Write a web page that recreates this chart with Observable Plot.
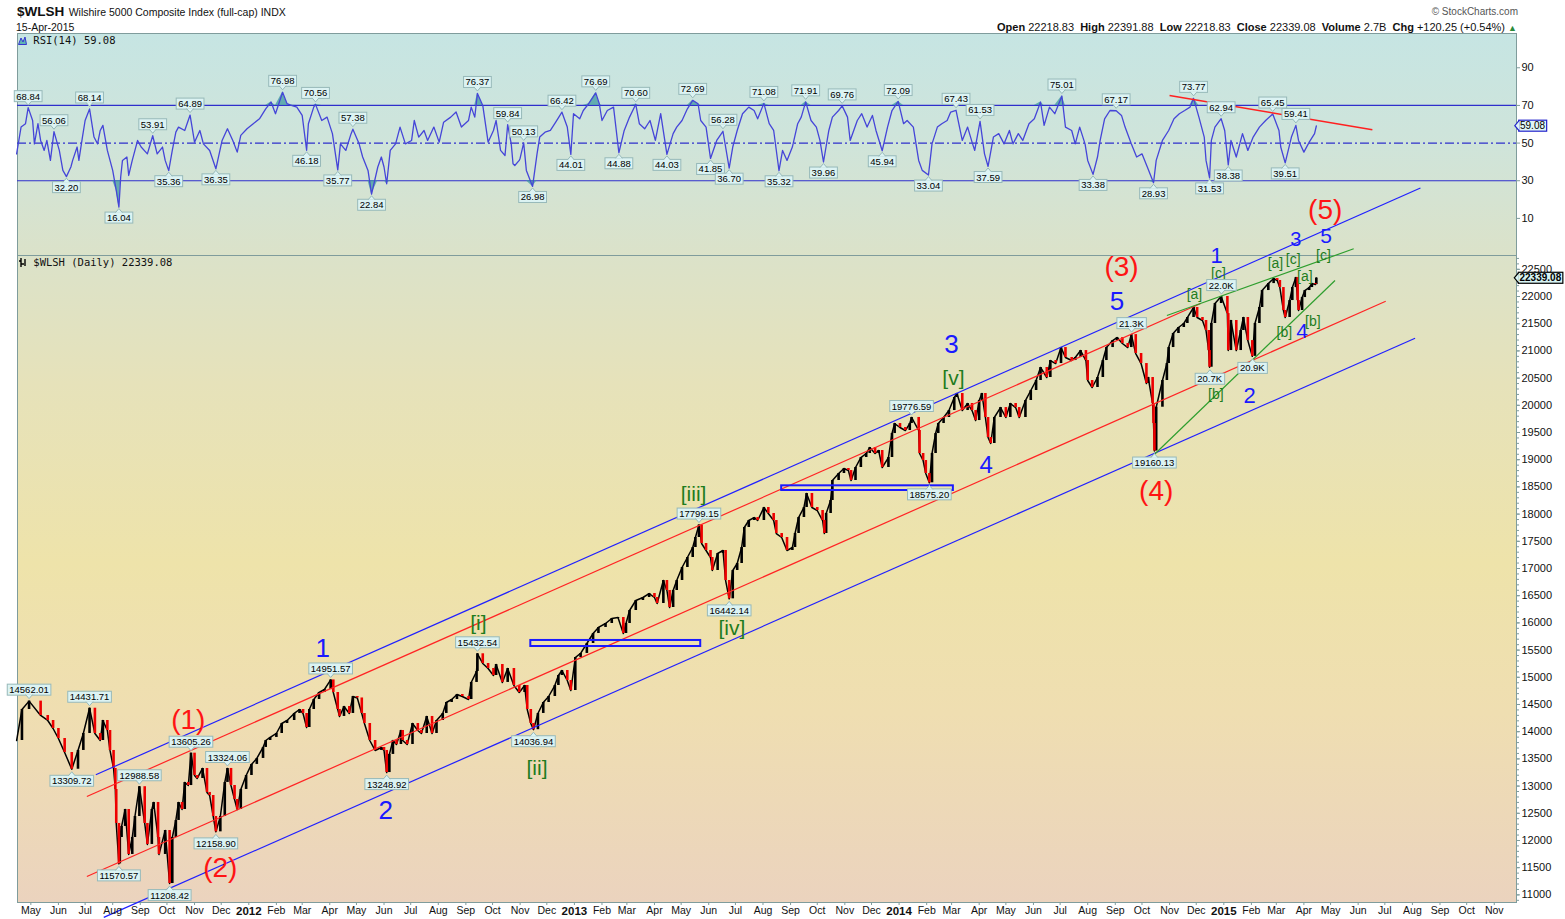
<!DOCTYPE html>
<html><head><meta charset="utf-8">
<script src="https://cdn.jsdelivr.net/npm/d3@7"></script>
<script src="https://cdn.jsdelivr.net/npm/@observablehq/plot@0.6"></script>
<style>
body{margin:0;background:#fff;}
#wrap{position:relative;width:1565px;height:919px;overflow:hidden;font-family:"Liberation Sans",Arial,sans-serif;color:#111;}
.abs{position:absolute;white-space:nowrap;}
#bg{position:absolute;left:17px;top:33px;width:1499px;height:869px;
background:linear-gradient(to bottom,#c6e5e3 0px,#cfe4da 110px,#dbe2c9 222px,#e6e2ba 350px,#eee3aa 530px,#efdeb1 680px,#ebd3be 869px);}
.mono{font-family:"DejaVu Sans Mono",monospace;font-size:10.5px;line-height:12px;}
</style></head><body>
<div id="wrap">
  <div id="bg"></div>
  <div id="rsi" class="abs" style="left:0;top:33px"></div>
  <div id="price" class="abs" style="left:0;top:255px"></div>
  <div class="abs" style="left:17px;top:4px;line-height:14px"><span style="font-weight:bold;font-size:13.5px">$WLSH</span> <span style="font-size:10.5px">Wilshire 5000 Composite Index (full-cap) INDX</span></div>
  <div class="abs" style="left:16px;top:21px;font-size:10.5px;line-height:12px">15-Apr-2015</div>
  <div class="abs" style="right:47px;top:6px;font-size:10px;color:#555;line-height:12px">© StockCharts.com</div>
  <div class="abs" style="right:48px;top:21px;font-size:11px;line-height:12px"><b>Open</b> 22218.83&nbsp; <b>High</b> 22391.88&nbsp; <b>Low</b> 22218.83&nbsp; <b>Close</b> 22339.08&nbsp; <b>Volume</b> 2.7B&nbsp; <b>Chg</b> +120.25 (+0.54%) <span style="color:#2a8a3a;font-size:9px">▲</span></div>
  <div class="abs mono" style="left:18px;top:34px"><svg width="9" height="9" style="vertical-align:-1px"><path d="M0.5,8.5 L3,2 L5,6 L7,1 L8.5,8.5 Z" fill="#5fb4b4" stroke="#3535d0" stroke-width="1"/></svg> RSI(14) 59.08</div>
  <div class="abs mono" style="left:19px;top:256px"><svg width="8" height="9" style="vertical-align:-1px"><path d="M2,0 V9 M2,3 H0 M2,6 H5 M6,1 V8" stroke="#000" stroke-width="1.4" fill="none"/></svg> $WLSH (Daily) 22339.08</div>
</div>
<script>
// ---------------- DATA ----------------
const priceDates = [
"2011-04-15","2011-04-21","2011-04-29","2011-05-12","2011-05-20","2011-05-26","2011-06-01","2011-06-08","2011-06-16","2011-06-23",
"2011-06-29","2011-07-06","2011-07-12","2011-07-18","2011-07-21","2011-07-26","2011-07-29","2011-08-02","2011-08-04","2011-08-05",
"2011-08-08","2011-08-09","2011-08-11","2011-08-15","2011-08-19","2011-08-23","2011-08-26","2011-08-31","2011-09-06","2011-09-09",
"2011-09-14","2011-09-16","2011-09-21","2011-09-22","2011-09-29","2011-10-04","2011-10-07","2011-10-11","2011-10-14","2011-10-18",
"2011-10-21","2011-10-25","2011-10-28","2011-11-01","2011-11-04","2011-11-10","2011-11-15","2011-11-18","2011-11-22","2011-11-25",
"2011-11-30","2011-12-05","2011-12-08","2011-12-12","2011-12-16","2011-12-19","2011-12-23","2011-12-29","2012-01-04","2012-01-10",
"2012-01-17","2012-01-20","2012-01-25","2012-02-01","2012-02-07","2012-02-13","2012-02-21","2012-02-27","2012-03-02","2012-03-06",
"2012-03-09","2012-03-14","2012-03-20","2012-03-26","2012-04-02","2012-04-05","2012-04-10","2012-04-12","2012-04-17","2012-04-23",
"2012-04-27","2012-05-02","2012-05-07","2012-05-10","2012-05-16","2012-05-22","2012-05-29","2012-06-01","2012-06-04","2012-06-07",
"2012-06-11","2012-06-15","2012-06-20","2012-06-22","2012-06-27","2012-07-03","2012-07-09","2012-07-13","2012-07-19","2012-07-25",
"2012-07-30","2012-08-06","2012-08-10","2012-08-16","2012-08-22","2012-08-28","2012-09-04","2012-09-07","2012-09-13","2012-09-14",
"2012-09-20","2012-09-26","2012-10-02","2012-10-05","2012-10-12","2012-10-18","2012-10-25","2012-10-31","2012-11-06","2012-11-09",
"2012-11-13","2012-11-16","2012-11-21","2012-11-27","2012-12-03","2012-12-10","2012-12-14","2012-12-18","2012-12-24","2012-12-28",
"2013-01-02","2013-01-08","2013-01-15","2013-01-22","2013-01-28","2013-02-05","2013-02-12","2013-02-19","2013-02-25","2013-02-28",
"2013-03-04","2013-03-11","2013-03-19","2013-03-26","2013-04-01","2013-04-04","2013-04-11","2013-04-15","2013-04-18","2013-04-22",
"2013-04-26","2013-05-02","2013-05-08","2013-05-14","2013-05-17","2013-05-21","2013-05-24","2013-05-29","2013-06-03","2013-06-05",
"2013-06-11","2013-06-17","2013-06-20","2013-06-24","2013-06-28","2013-07-03","2013-07-08","2013-07-11","2013-07-16","2013-07-22",
"2013-07-26","2013-08-02","2013-08-07","2013-08-13","2013-08-16","2013-08-22","2013-08-28","2013-09-03","2013-09-06","2013-09-10",
"2013-09-16","2013-09-19","2013-09-25","2013-10-01","2013-10-07","2013-10-09","2013-10-11","2013-10-16","2013-10-18","2013-10-25",
"2013-10-31","2013-11-05","2013-11-08","2013-11-13","2013-11-19","2013-11-25","2013-11-29","2013-12-05","2013-12-09","2013-12-13",
"2013-12-20","2013-12-24","2013-12-27","2014-01-02","2014-01-08","2014-01-13","2014-01-15","2014-01-23","2014-01-24","2014-01-28",
"2014-01-31","2014-02-04","2014-02-07","2014-02-11","2014-02-14","2014-02-20","2014-02-26","2014-03-04","2014-03-07","2014-03-13",
"2014-03-19","2014-03-24","2014-03-28","2014-04-01","2014-04-04","2014-04-08","2014-04-11","2014-04-14","2014-04-18","2014-04-25",
"2014-05-01","2014-05-06","2014-05-12","2014-05-16","2014-05-23","2014-05-29","2014-06-04","2014-06-09","2014-06-16","2014-06-20",
"2014-06-26","2014-07-02","2014-07-07","2014-07-14","2014-07-18","2014-07-24","2014-07-30","2014-08-01","2014-08-06","2014-08-12",
"2014-08-18","2014-08-22","2014-08-29","2014-09-03","2014-09-09","2014-09-15","2014-09-19","2014-09-24","2014-09-30","2014-10-06",
"2014-10-08","2014-10-13","2014-10-14","2014-10-15","2014-10-17","2014-10-24","2014-10-29","2014-10-31","2014-11-05","2014-11-11",
"2014-11-17","2014-11-21","2014-11-28","2014-12-02","2014-12-08","2014-12-12","2014-12-15","2014-12-16","2014-12-18","2014-12-22",
"2014-12-29","2015-01-05","2015-01-06","2015-01-09","2015-01-15","2015-01-20","2015-01-23","2015-01-28","2015-02-02","2015-02-05",
"2015-02-10","2015-02-13","2015-02-20","2015-02-26","2015-03-02","2015-03-05","2015-03-09","2015-03-11","2015-03-16","2015-03-19",
"2015-03-23","2015-03-25","2015-03-26","2015-03-30","2015-04-02","2015-04-07","2015-04-10","2015-04-14","2015-04-15"];
const priceCloses = [
13838,14408,14562.01,14298,14206,14059,13875,13618,13309.72,13655,
13967,14431.71,13967,13838,14206,14022,13655,13324,12938,12313,
11570.57,12055,12258,12570,11743,12055,12441,12988.58,12313,11927,
12570,12699,12055,11743,12184,11208.42,12055,12368,12699,12570,
13067,13010,13605.26,13195,13140,13324,12883,12827,12441,12158.90,
12441,13067,13324.06,13011,12754,12570,12938,13195,13398,13508,
13710,13838,13894,13967,14151,14206,14335,14408,14335,14077,
14408,14592,14721,14776,14951.57,14721,14408,14280,14463,14335,
14647,14620,14335,14151,13838,13655,13710,13655,13248.92,13582,
13838,13765,14022,13838,13765,14151,14022,13967,14280,13967,
14206,14335,14537,14592,14684,14647,14592,14905,15107,15432.54,
15254,15162,15033,15235,14905,15162,14849,14721,14849,14408,
14151,14036.94,14335,14537,14647,14849,15033,15125,14941,14757,
15364,15438,15621,15805,15916,15989,16081,16099,15805,15989,
16228,16412,16467,16540,16467,16357,16779,16596,16283,16596,
16779,17018,17202,17386,17570,17799.15,17460,17331,17202,16963,
17276,17331,16779,16442.14,16963,17092,17386,17754,17882,17937,
17882,18121,18011,17882,17643,17570,17331,17386,17643,17937,
18121,18379,18121,18066,17882,17643,18011,18250,18618,18746,
18838,18801,18618,18857,19040,19114,19224,19114,19169,18857,
19040,19481,19665,19592,19537,19665,19776.59,19537,19114,18985,
18746,18575.20,19114,19481,19665,19776,19904,20143,20217,19904,
20033,19904,19720,20088,20217,19776,19408,19298,19776,19959,
19776,20033,19959,19776,20088,20272,20456,20695,20511,20823,
20768,21062,20879,20823,20879,21007,20823,20456,20327,20511,
20823,21062,21190,21245,21136,21062,21300,20952,20768,20401,
20511,20033,19665,19160.13,19965,20456,20768,21062,21320,21430,
21504,21614,21798,21614,21559,21375,21007,20700,21504,21872,
22000,21687,21007,21559,21007,21375,21614,21190,20900,21504,
21798,22110,22238,22330,22294,22165,21743,21614,21926,22165,
22349,21926,21743,21981,22110,22165,22238,22219,22339.08];

const rsiDates = [
"2011-04-15","2011-04-20","2011-04-25","2011-04-28","2011-05-03","2011-05-05","2011-05-09","2011-05-12","2011-05-16","2011-05-19",
"2011-05-23","2011-05-27","2011-06-02","2011-06-06","2011-06-10","2011-06-15","2011-06-17","2011-06-22","2011-06-24","2011-06-28",
"2011-07-01","2011-07-06","2011-07-11","2011-07-15","2011-07-18","2011-07-21","2011-07-26","2011-08-01","2011-08-05","2011-08-08",
"2011-08-10","2011-08-12","2011-08-17","2011-08-19","2011-08-23","2011-08-29","2011-09-02","2011-09-09","2011-09-15","2011-09-20",
"2011-09-26","2011-09-29","2011-10-03","2011-10-07","2011-10-11","2011-10-14","2011-10-21","2011-10-27","2011-11-01","2011-11-07",
"2011-11-11","2011-11-18","2011-11-25","2011-12-02","2011-12-08","2011-12-14","2011-12-19","2011-12-23","2011-12-30","2012-01-06",
"2012-01-13","2012-01-20","2012-01-26","2012-01-31","2012-02-08","2012-02-13","2012-02-17","2012-02-24","2012-03-01","2012-03-06",
"2012-03-08","2012-03-14","2012-03-16","2012-03-23","2012-03-29","2012-04-04","2012-04-10","2012-04-13","2012-04-19","2012-04-25",
"2012-04-27","2012-05-04","2012-05-08","2012-05-14","2012-05-18","2012-05-25","2012-05-29","2012-06-01","2012-06-04","2012-06-08",
"2012-06-14","2012-06-19","2012-06-25","2012-07-02","2012-07-05","2012-07-10","2012-07-16","2012-07-20","2012-07-27","2012-08-02",
"2012-08-07","2012-08-15","2012-08-21","2012-08-27","2012-09-04","2012-09-07","2012-09-11","2012-09-14","2012-09-20","2012-09-26",
"2012-10-02","2012-10-05","2012-10-10","2012-10-15","2012-10-18","2012-10-22","2012-10-24","2012-10-26","2012-10-31","2012-11-01",
"2012-11-05","2012-11-08","2012-11-15","2012-11-20","2012-11-23","2012-11-29","2012-12-05","2012-12-11","2012-12-18","2012-12-24",
"2012-12-28","2012-12-31","2013-01-07","2013-01-11","2013-01-17","2013-01-25","2013-01-29","2013-02-01","2013-02-07","2013-02-14",
"2013-02-20","2013-02-26","2013-03-04","2013-03-11","2013-03-15","2013-03-21","2013-03-27","2013-04-02","2013-04-08","2013-04-15",
"2013-04-22","2013-04-26","2013-05-02","2013-05-08","2013-05-14","2013-05-20","2013-05-23","2013-05-29","2013-06-03","2013-06-10",
"2013-06-17","2013-06-24","2013-06-28","2013-07-03","2013-07-09","2013-07-16","2013-07-22","2013-07-26","2013-08-02","2013-08-08",
"2013-08-13","2013-08-19","2013-08-23","2013-08-28","2013-09-03","2013-09-09","2013-09-13","2013-09-18","2013-09-24","2013-09-30",
"2013-10-04","2013-10-08","2013-10-14","2013-10-18","2013-10-25","2013-10-29","2013-11-04","2013-11-07","2013-11-15","2013-11-20",
"2013-11-26","2013-12-02","2013-12-06","2013-12-13","2013-12-19","2013-12-24","2013-12-31","2014-01-06","2014-01-10","2014-01-17",
"2014-01-23","2014-01-27","2014-02-03","2014-02-07","2014-02-13","2014-02-18","2014-02-24","2014-02-28","2014-03-06","2014-03-13",
"2014-03-19","2014-03-24","2014-03-27","2014-04-02","2014-04-07","2014-04-11","2014-04-17","2014-04-23","2014-04-29","2014-05-05",
"2014-05-09","2014-05-15","2014-05-20","2014-05-27","2014-06-02","2014-06-09","2014-06-13","2014-06-19","2014-06-25","2014-07-03",
"2014-07-07","2014-07-14","2014-07-18","2014-07-23","2014-07-29","2014-08-01","2014-08-07","2014-08-12","2014-08-15","2014-08-20",
"2014-08-26","2014-09-02","2014-09-08","2014-09-12","2014-09-19","2014-09-25","2014-10-01","2014-10-07","2014-10-14","2014-10-17",
"2014-10-24","2014-10-31","2014-11-06","2014-11-12","2014-11-18","2014-11-24","2014-11-28","2014-12-04","2014-12-10","2014-12-12",
"2014-12-16","2014-12-18","2014-12-22","2014-12-29","2015-01-02","2015-01-06","2015-01-09","2015-01-15","2015-01-22","2015-01-28",
"2015-02-03","2015-02-10","2015-02-17","2015-02-25","2015-03-04","2015-03-06","2015-03-11","2015-03-18","2015-03-23","2015-03-26",
"2015-04-01","2015-04-07","2015-04-13","2015-04-15"];
const rsiValues = [
44.3,58.5,60.3,68.84,62,49.6,60.3,51.4,46.1,51.4,
40.8,56.06,46.1,35.5,32.20,37.3,40.8,47.9,40.8,53.2,
62,68.14,53.2,49.6,56.7,59.4,46.1,35.5,24.9,16.04,
32,40.8,42.6,32.8,40.8,51.4,47.9,44.3,53.91,44.3,
47.9,40.8,35.36,46.1,55.8,58.5,56.7,64.89,50.5,56.7,
49.6,46.1,36.35,51.4,57.6,51.4,45.2,54.1,57.6,60.3,
62.9,68.2,71.8,65.6,76.98,70.9,70.2,69.1,64.7,46.18,
60.3,69.1,70.56,62,63.8,55,35.77,49.6,46.1,55,
57.38,49.6,42.6,35.5,22.84,37.3,42.6,37.3,28.4,46.1,
49.6,58.5,49.6,51.4,62,53.2,56.7,51.4,58.5,50.5,
61.1,63.8,66.5,58.5,62,69.1,63.8,76.37,70,50.5,
56.7,62,46.1,43.4,59.84,49.6,39,38.1,40.8,42,
50.13,35.5,26.98,44.3,53.2,55.8,56.7,61.1,66.42,58.5,
44.01,65.6,62.9,67.3,70.9,76.69,70.9,62,67.3,69.1,
44.88,56.7,63.8,70.60,60.3,57.6,62,51.4,65.6,44.03,
55,58.5,62,68.2,72.69,70.9,62,58.5,41.85,51.4,
56.28,36.70,47.9,56.7,65.6,69.1,67.3,62.9,71.08,60.3,
56.7,35.32,46.1,40.8,47.9,60.3,63.8,71.91,62,58.5,
51.4,39.96,56.7,63.8,67.3,69.76,63.8,51.4,62,65.6,
58.5,64.7,56.7,45.94,58.5,67.3,72.09,60.3,62,58.5,
40.8,35.5,33.04,49.6,58.5,60.3,62,66.5,67.43,51.4,
58.5,50.5,46.1,61.53,44.3,37.59,53.2,55,49.6,56.7,
49.6,55,51.4,60.3,62.9,71.8,59.4,69.1,65.6,75.01,
58.5,56.7,49.6,58.5,49.6,40.8,33.38,42.6,51.4,62.9,
67.3,67.17,64.7,58.5,49.6,42.6,44.3,37.3,28.93,40.8,
51.4,56.7,62.9,65.6,67.3,69.1,73.77,63.8,53.2,40.8,
31.53,51.4,58.5,62.94,56.7,38.38,51.4,42.6,55,46.1,
53.2,58.5,62,65.45,56.7,47.9,39.51,53.2,59.41,51.4,
45.2,50.5,55,59.08];

// RSI pivot callouts: [date, value, side]
const rsiCallouts = [
["2011-04-28",68.84,"up"],["2011-05-27",56.06,"up"],["2011-06-10",32.20,"down"],["2011-07-06",68.14,"up"],
["2011-08-08",16.04,"down"],["2011-09-15",53.91,"up"],["2011-10-03",35.36,"down"],["2011-10-27",64.89,"up"],
["2011-11-25",36.35,"down"],["2012-02-08",76.98,"up"],["2012-03-06",46.18,"down"],["2012-03-16",70.56,"up"],
["2012-04-10",35.77,"down"],["2012-04-27",57.38,"up"],["2012-05-18",22.84,"down"],["2012-09-14",76.37,"up"],
["2012-10-18",59.84,"up"],["2012-11-05",50.13,"up"],["2012-11-15",26.98,"down"],["2012-12-18",66.42,"up"],
["2012-12-28",44.01,"down"],["2013-01-25",76.69,"up"],["2013-02-20",44.88,"down"],["2013-03-11",70.60,"up"],
["2013-04-15",44.03,"down"],["2013-05-14",72.69,"up"],["2013-06-03",41.85,"down"],["2013-06-17",56.28,"up"],
["2013-06-24",36.70,"down"],["2013-08-02",71.08,"up"],["2013-08-19",35.32,"down"],["2013-09-18",71.91,"up"],
["2013-10-08",39.96,"down"],["2013-10-29",69.76,"up"],["2013-12-13",45.94,"down"],["2013-12-31",72.09,"up"],
["2014-02-03",33.04,"down"],["2014-03-06",67.43,"up"],["2014-04-02",61.53,"up"],["2014-04-11",37.59,"down"],
["2014-07-03",75.01,"up"],["2014-08-07",33.38,"down"],["2014-09-02",67.17,"up"],["2014-10-14",28.93,"down"],
["2014-11-28",73.77,"up"],["2014-12-16",31.53,"down"],["2014-12-29",62.94,"up"],["2015-01-06",38.38,"down"],
["2015-02-25",65.45,"up"],["2015-03-11",39.51,"down"],["2015-03-23",59.41,"up"]];

// price pivot callouts: [date, value, label, side]
const priceCallouts = [
["2011-04-29",14562.01,"14562.01","up"],["2011-06-16",13309.72,"13309.72","down"],["2011-07-06",14431.71,"14431.71","up"],
["2011-08-08",11570.57,"11570.57","down"],["2011-08-31",12988.58,"12988.58","up"],["2011-10-04",11208.42,"11208.42","down"],
["2011-10-28",13605.26,"13605.26","up"],["2011-11-25",12158.90,"12158.90","down"],["2011-12-08",13324.06,"13324.06","up"],
["2012-04-02",14951.57,"14951.57","up"],["2012-06-04",13248.92,"13248.92","down"],["2012-09-14",15432.54,"15432.54","up"],
["2012-11-16",14036.94,"14036.94","down"],["2013-05-21",17799.15,"17799.15","up"],["2013-06-24",16442.14,"16442.14","down"],
["2014-01-15",19776.59,"19776.59","up"],["2014-02-04",18575.20,"18575.20","down"],["2014-09-19",21300,"21.3K","up"],
["2014-10-15",19160.13,"19160.13","down"],["2014-12-29",22000,"22.0K","up"],["2014-12-16",20700,"20.7K","down"],
["2015-02-02",20900,"20.9K","down"]];

// trend / channel lines: [date1, value1, date2, value2]
const blueChannel = [["2011-07-13",13208,"2015-08-10",23996],["2011-07-22",10586,"2015-08-04",21233]];
const redChannel = [["2011-07-03",12809,"2014-12-06",21871],["2011-07-03",11338,"2015-07-02",21913]];
const greenWedge = [["2014-10-29",21651,"2015-05-27",22877],["2014-09-30",18862,"2015-05-06",22294]];
const rsiTrend = [["2014-11-01",75.3,"2015-06-17",57.1]];
// blue boxes: [date1, date2, low, high]
const supportBoxes = [["2012-11-13","2013-05-23",15566,15677],["2013-08-22","2014-03-03",18434,18520]];

// wave labels: [date, value, text, fontSize]
const redWaves = [["2011-10-25",14206,"(1)",28],["2011-11-30",11485,"(2)",28],["2014-09-08",22533,"(3)",28],["2014-10-17",18415,"(4)",28],["2015-04-25",23581,"(5)",28]];
const blueWaves = [["2012-03-24",15529,"1",26],["2012-06-03",12552,"2",26],["2014-03-01",21118,"3",26],["2014-04-09",18893,"4",24],["2014-09-03",21908,"5",26],
["2014-12-24",22754,"1",22],["2015-01-30",20180,"2",22],["2015-03-23",23040,"3",20],["2015-03-30",21357,"4",21],["2015-04-26",23103,"5",21]];
const greenWaves = [["2012-09-15",15989,"[i]",21],["2012-11-20",13324,"[ii]",21],["2013-05-15",18360,"[iii]",21],["2013-06-27",15897,"[iv]",21],["2014-03-03",20493,"[v]",21],
["2014-11-29",22037,"[a]",14],["2014-12-26",22423,"[c]",14],["2014-12-23",20198,"[b]",14],["2015-02-28",22607,"[a]",14],["2015-03-20",22680,"[c]",14],
["2015-04-02",22368,"[a]",14],["2015-03-10",21338,"[b]",14],["2015-04-11",21540,"[b]",14],["2015-04-23",22754,"[c]",14]];

const priceTicks = d3.range(11000, 22501, 500);
const rsiTicks = [10, 30, 50, 70, 90];

// ---------------- BUILD ----------------
const P = d3.utcParse("%Y-%m-%d");
const xDomain = [P("2011-04-16"), P("2015-11-26")];
const price = priceDates.map((d, i) => ({date: P(d), close: priceCloses[i], prev: i ? priceCloses[i - 1] : priceCloses[i]}));
const rsi = rsiDates.map((d, i) => ({date: P(d), v: rsiValues[i]}));
const seg = a => a.map(([d1, v1, d2, v2]) => ({d1: P(d1), v1, d2: P(d2), v2}));
const waves = a => a.map(([d, v, t, s]) => ({date: P(d), v, t, s}));
const FONT = "'Liberation Sans', Arial, sans-serif";
const AX = "#7f9c9c";

const rsiC = rsiCallouts.map(([d, v, s]) => ({date: P(d), v, label: v.toFixed(2), side: s}));
const priceC = priceCallouts.map(([d, v, l, s]) => ({date: P(d), v, label: l, side: s}));
const calloutText = {fontSize: 9.5, fontFamily: FONT, fill: "#000"};

const rsiPlot = Plot.plot({
  width: 1565, height: 222, marginLeft: 17, marginRight: 49, marginTop: 0, marginBottom: 0,
  style: {background: "transparent", overflow: "visible", fontFamily: FONT},
  x: {type: "utc", domain: xDomain, axis: null},
  y: {domain: [-9.7, 108.2], label: null},
  marks: [
    Plot.frame({stroke: AX}),
    Plot.ruleY([70, 30], {stroke: "#2f2fcc", strokeWidth: 1.2}),
    Plot.ruleY([50], {stroke: "#2f2fcc", strokeWidth: 1.2, strokeDasharray: "9,3,2,3"}),
    Plot.areaY(rsi, {x: "date", y1: 70, y2: d => Math.max(70, d.v), fill: "#3f9aa0", fillOpacity: 0.75}),
    Plot.areaY(rsi, {x: "date", y1: 30, y2: d => Math.min(30, d.v), fill: "#3f9aa0", fillOpacity: 0.75}),
    Plot.line(rsi, {x: "date", y: "v", stroke: "#4545d8", strokeWidth: 1.3}),
    Plot.link(seg(rsiTrend), {x1: "d1", y1: "v1", x2: "d2", y2: "v2", stroke: "#ff2020", strokeWidth: 1.5}),
    Plot.text(rsiC.filter(d => d.side === "up"), {x: "date", y: "v", text: "label", dy: -11, ...calloutText, ariaDescription: "callout-up"}),
    Plot.text(rsiC.filter(d => d.side === "down"), {x: "date", y: "v", text: "label", dy: 11, ...calloutText, ariaDescription: "callout-down"}),
    Plot.axisY(rsiTicks, {anchor: "right", tickSize: 3, tickPadding: 2, fontSize: 11, stroke: AX, fill: "#111", label: null}),
    Plot.text([rsiValues[rsiValues.length - 1]], {y: d => d, text: d => d.toFixed(2), frameAnchor: "right", textAnchor: "start", dx: 3.5, fontSize: 10, fontFamily: FONT, fill: "#000", ariaDescription: "last-rsi"})
  ]
});

const pricePlot = Plot.plot({
  width: 1565, height: 664, marginLeft: 17, marginRight: 49, marginTop: 0, marginBottom: 17,
  style: {background: "transparent", overflow: "visible", fontFamily: FONT},
  x: {type: "utc", domain: xDomain, label: null},
  y: {domain: [10860, 22754], label: null},
  marks: [
    Plot.frame({stroke: AX}),
    Plot.line(price, {x: "date", y: "close", stroke: "#000", strokeWidth: 1.5}),
    Plot.ruleX(price.filter(d => d.close >= d.prev), {x: "date", y1: "prev", y2: "close", stroke: "#000", strokeWidth: 2.6}),
    Plot.ruleX(price.filter(d => d.close < d.prev), {x: "date", y1: "prev", y2: "close", stroke: "#ee0000", strokeWidth: 2.6}),
    Plot.link(seg(blueChannel), {x1: "d1", y1: "v1", x2: "d2", y2: "v2", stroke: "#2020ff", strokeWidth: 1.2}),
    Plot.link(seg(redChannel), {x1: "d1", y1: "v1", x2: "d2", y2: "v2", stroke: "#ff2424", strokeWidth: 1.2}),
    Plot.link(seg(greenWedge), {x1: "d1", y1: "v1", x2: "d2", y2: "v2", stroke: "#2e9e2e", strokeWidth: 1.2}),
    Plot.rect(supportBoxes.map(([a, b, lo, hi]) => ({a: P(a), b: P(b), lo, hi})), {x1: "a", x2: "b", y1: "lo", y2: "hi", fill: "none", stroke: "#1a1aff", strokeWidth: 2}),
    Plot.text(waves(redWaves), {x: "date", y: "v", text: "t", fontSize: "s", fill: "#ff1414", fontFamily: FONT}),
    Plot.text(waves(blueWaves), {x: "date", y: "v", text: "t", fontSize: "s", fill: "#1a1aff", fontFamily: FONT}),
    Plot.text(waves(greenWaves), {x: "date", y: "v", text: "t", fontSize: "s", fill: "#1e7c1e", fontFamily: FONT}),
    Plot.text(priceC.filter(d => d.side === "up"), {x: "date", y: "v", text: "label", dy: -11, ...calloutText, ariaDescription: "callout-up"}),
    Plot.text(priceC.filter(d => d.side === "down"), {x: "date", y: "v", text: "label", dy: 12, ...calloutText, ariaDescription: "callout-down"}),
    Plot.axisY(d3.range(10900, 22701, 100), {anchor: "right", tickSize: 2, tickFormat: () => "", stroke: AX, label: null}),
    Plot.axisY(priceTicks, {anchor: "right", tickSize: 3, tickPadding: 2, fontSize: 11, tickFormat: d => String(d), stroke: AX, fill: "#111", label: null}),
    Plot.axisX(d3.utcMonths(xDomain[0], xDomain[1]).filter(d => d.getUTCMonth() !== 0), {anchor: "bottom", tickSize: 3, tickPadding: 1, fontSize: 10.5, tickFormat: d3.utcFormat("%b"), stroke: AX, fill: "#111", label: null}),
    Plot.axisX(d3.utcMonths(xDomain[0], xDomain[1]).filter(d => d.getUTCMonth() === 0), {anchor: "bottom", tickSize: 3, tickPadding: 1, fontSize: 11.5, fontWeight: "bold", tickFormat: d3.utcFormat("%Y"), stroke: AX, fill: "#111", label: null}),
    Plot.text([priceCloses[priceCloses.length - 1]], {y: d => d, text: d => d.toFixed(2), frameAnchor: "right", textAnchor: "start", dx: 3, fontSize: 10, fontWeight: "bold", fontFamily: FONT, fill: "#000", ariaDescription: "last-price"})
  ]
});

document.getElementById("rsi").appendChild(rsiPlot);
document.getElementById("price").appendChild(pricePlot);

// ---------------- callout boxes ----------------
const NS = "http://www.w3.org/2000/svg";
function el(tag, attrs) { const e = document.createElementNS(NS, tag); for (const k in attrs) e.setAttribute(k, attrs[k]); return e; }
function boxify(svg, desc, dir, fill, stroke, sw, padX) {
  svg.querySelectorAll(`g[aria-description="${desc}"] text`).forEach(t => {
    const b = t.getBBox();
    const x0 = b.x - padX, y0 = b.y, w = b.width + 2 * padX, h = b.height;
    const tr = t.getAttribute("transform");
    const g = t.parentNode;
    const r = el("rect", {x: x0, y: y0, width: w, height: h, fill, stroke, "stroke-width": sw});
    if (tr) r.setAttribute("transform", tr);
    g.insertBefore(r, t);
    let d = null; const cx = x0 + w / 2, s = 3.5;
    if (dir === "up") d = `M${cx - s},${y0 + h - 0.6}L${cx},${y0 + h + s}L${cx + s},${y0 + h - 0.6}`;
    if (dir === "down") d = `M${cx - s},${y0 + 0.6}L${cx},${y0 - s}L${cx + s},${y0 + 0.6}`;
    if (dir === "left") d = `M${x0 + 0.6},${y0}L${x0 - 4},${y0 + h / 2}L${x0 + 0.6},${y0 + h}`;
    if (d) { const p = el("path", {d, fill, stroke, "stroke-width": sw}); if (tr) p.setAttribute("transform", tr); g.insertBefore(p, t); }
  });
}
for (const svg of [rsiPlot, pricePlot]) {
  boxify(svg, "callout-up", "up", "#dcf3f3", "#97b9b9", 1, 2);
  boxify(svg, "callout-down", "down", "#dcf3f3", "#97b9b9", 1, 2);
}
boxify(rsiPlot, "last-rsi", "left", "#dff5f5", "#2323cc", 1.2, 1.2);
boxify(pricePlot, "last-price", "left", "#d7f4f4", "#000", 1.2, 1.2);
</script>
</body></html>
